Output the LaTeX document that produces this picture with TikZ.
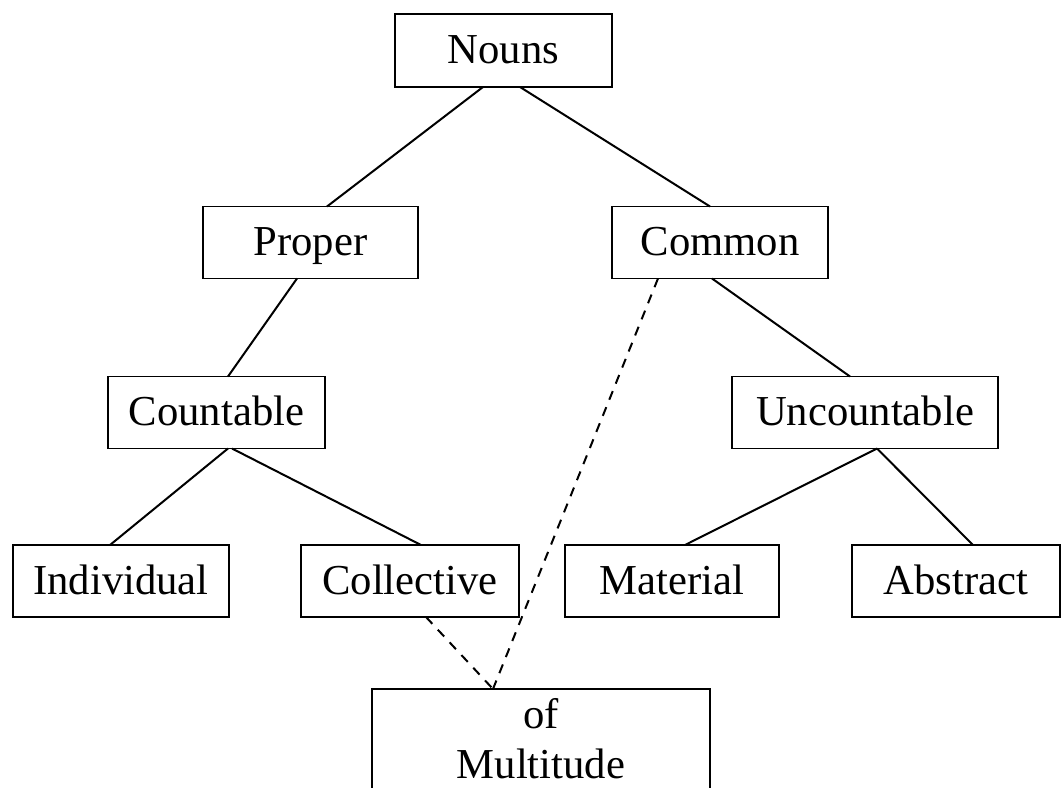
\documentclass[tikz,border=0pt]{standalone}
\usepackage{fontspec}
\setmainfont{Liberation Serif}
\usetikzlibrary{calc}
\begin{document}
\begin{tikzpicture}[x=0.75pt,y=-0.75pt,
  box/.style={draw,line width=1.4pt,inner sep=0pt,outer sep=0pt,minimum height=54pt,
    text height=20pt,text depth=0pt,
    font=\fontsize{32}{37.5}\selectfont},
  link/.style={line width=1.5pt},
  dlink/.style={line width=1.5pt,dash pattern=on 7pt off 6pt}]
\useasboundingbox (0,0) rectangle (1064,788);
\node[box,minimum width=162.75pt,minimum height=54.75pt] (nouns) at (503.5,50.5) {Nouns};
\node[box,minimum width=161.25pt] (proper) at (310.5,242.5) {Proper};
\node[box,minimum width=162pt] (common) at (720,242.5) {Common};
\node[box,minimum width=162.75pt] (countable) at (216.5,412.5) {Countable};
\node[box,minimum width=199.5pt] (uncountable) at (865,412.5) {Uncountable};
\node[box,minimum width=162pt] (individual) at (121,581) {Individual};
\node[box,minimum width=163.5pt] (collective) at (410,581) {Collective};
\node[box,minimum width=160.5pt] (material) at (672,581) {Material};
\node[box,minimum width=156pt] (abstract) at (956,581) {Abstract};
\node[box,draw=none,text height=,text depth=,minimum width=253.5pt,minimum height=74.25pt,align=center] (mult) at (541,738.5) {of\\Multitude};
\draw[line width=1.4pt] (mult.south west) -- (mult.north west) -- (mult.north east) -- (mult.south east);
\draw[link] ($(nouns.south)+(-20.5,0)$) -- ($(proper.north)+(16.5,0)$);
\draw[link] ($(nouns.south)+(16.5,0)$) -- ($(common.north)+(-10,0)$);
\draw[link] ($(proper.south)+(-13.5,0)$) -- ($(countable.north)+(11.5,0)$);
\draw[link] ($(common.south)+(-8,0)$) -- ($(uncountable.north)+(-15,0)$);
\draw[link] ($(countable.south)+(11.5,0)$) -- ($(individual.north)+(-11,0)$);
\draw[link] ($(countable.south)+(15.5,0)$) -- ($(collective.north)+(11,0)$);
\draw[link] ($(uncountable.south)+(12,0)$) -- ($(material.north)+(13,0)$);
\draw[link] ($(uncountable.south)+(12,0)$) -- ($(abstract.north)+(17,0)$);
\draw[dlink] ($(common.south)+(-62,0)$) -- ($(mult.north)+(-48,0)$);
\draw[dlink] ($(collective.south)+(16,0)$) -- ($(mult.north)+(-48,0)$);
\end{tikzpicture}
\end{document}
